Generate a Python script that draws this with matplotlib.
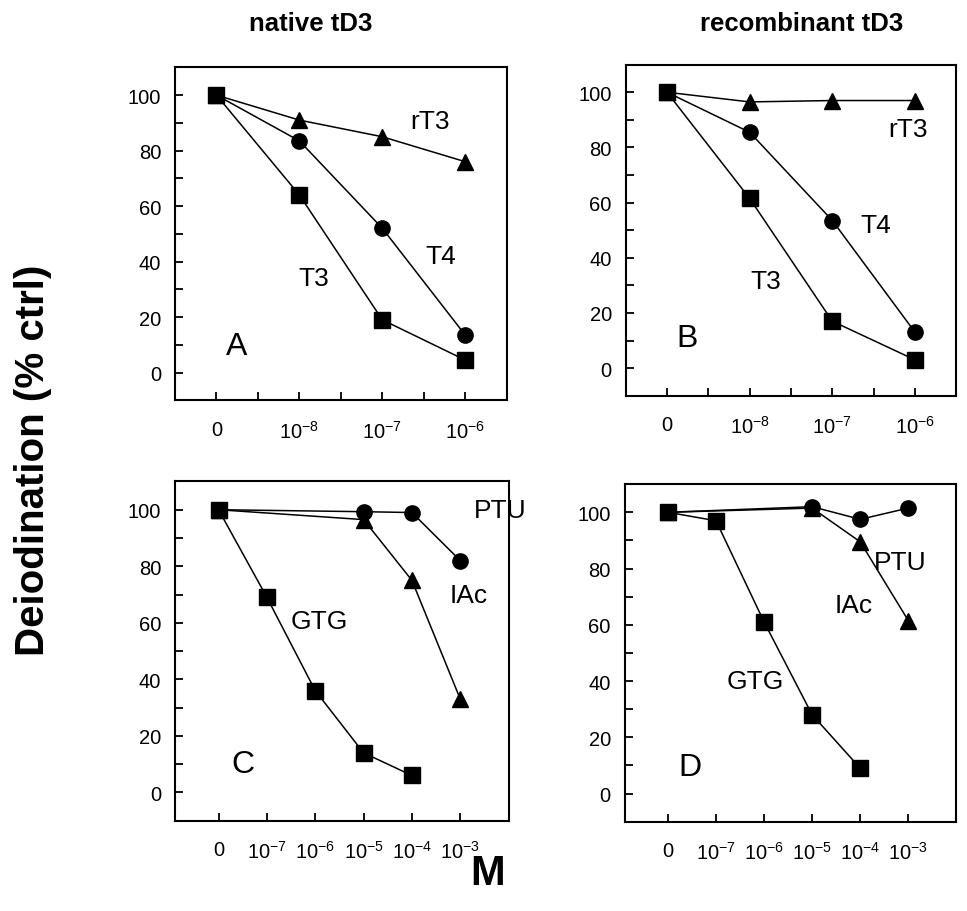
import matplotlib
matplotlib.use("Agg")
import matplotlib.pyplot as plt
from matplotlib.ticker import MultipleLocator

plt.rcParams['font.family'] = ['Liberation Sans', 'DejaVu Sans']
plt.rcParams['mathtext.default'] = 'regular'

# inhibitor doses, log-spaced positions
doses_ab = ['0', '10$^{-8}$', '10$^{-7}$', '10$^{-6}$']
doses_cd = ['0', '10$^{-7}$', '10$^{-6}$', '10$^{-5}$', '10$^{-4}$', '10$^{-3}$']

# panel A: native tD3
a_t3 = [100, 64, 19, 4.5]
a_t4 = [100, 83.5, 52, 13.5]
a_rt3 = [100, 91, 85, 76]

# panel B: recombinant tD3
b_t3 = [100, 61.5, 17, 3]
b_t4 = [100, 85.5, 53.5, 13]
b_rt3 = [100, 96.5, 97, 97]

# panel C: native tD3
c_gtg_x = [0, 1, 2, 3, 4]
c_gtg = [100, 69, 36, 14, 6]
c_iac_x = [0, 3, 4, 5]
c_iac = [100, 96.5, 75, 33]
c_ptu_x = [0, 3, 4, 5]
c_ptu = [100, 99.3, 99, 82]

# panel D: recombinant tD3
d_gtg_x = [0, 1, 2, 3, 4]
d_gtg = [100, 97, 61, 28, 9]
d_iac_x = [0, 3, 4, 5]
d_iac = [100, 101.5, 89.5, 61.5]
d_ptu_x = [0, 3, 4, 5]
d_ptu = [100, 102, 97.5, 101.5]

fig = plt.figure(figsize=(9.67, 9.12), dpi=100)

axA = fig.add_axes([0.181, 0.560, 0.343, 0.365])
axB = fig.add_axes([0.647, 0.565, 0.342, 0.363])
axC = fig.add_axes([0.181, 0.099, 0.345, 0.372])
axD = fig.add_axes([0.646, 0.098, 0.343, 0.370])

line_kw = dict(color='black', lw=1.1)
LBL = 19
PANEL = 23


def series(ax, x, y, marker, ms, z):
    ax.plot(x, y, marker=marker, ms=ms, mfc='black', mec='black', zorder=z, **line_kw)


def style(ax, labels, half_ticks):
    n = len(labels)
    ax.set_ylim(-10, 110)
    ax.set_xlim(-0.5 if half_ticks else -0.9, n - 0.5 if half_ticks else n)
    ax.set_xticks(range(n))
    ax.set_xticklabels(labels)
    if half_ticks:
        ax.xaxis.set_minor_locator(MultipleLocator(0.5))
    ax.set_yticks(range(0, 101, 20))
    ax.yaxis.set_minor_locator(MultipleLocator(10))
    ax.tick_params(which='both', direction='in', length=6, width=1.3,
                   top=False, right=False)
    ax.tick_params(axis='x', pad=14, labelsize=14.5)
    ax.tick_params(axis='y', pad=10, labelsize=14.5)
    for sp in ax.spines.values():
        sp.set_linewidth(1.5)


# A
xs = range(4)
series(axA, xs, a_rt3, '^', 12, 2)
series(axA, xs, a_t4, 'o', 11, 3)
series(axA, xs, a_t3, 's', 12, 4)
style(axA, doses_ab, True)
axA.text(2.57, 90.5, 'rT3', fontsize=LBL, ha='center', va='center')
axA.text(2.71, 42, 'T4', fontsize=LBL, ha='center', va='center')
axA.text(1.17, 34, 'T3', fontsize=LBL, ha='center', va='center')
axA.text(0.24, 9.5, 'A', fontsize=PANEL, ha='center', va='center')

# B
series(axB, xs, b_rt3, '^', 12, 2)
series(axB, xs, b_t4, 'o', 11, 3)
series(axB, xs, b_t3, 's', 12, 4)
style(axB, doses_ab, True)
axB.text(2.92, 86.5, 'rT3', fontsize=LBL, ha='center', va='center')
axB.text(2.53, 52, 'T4', fontsize=LBL, ha='center', va='center')
axB.text(1.2, 31.5, 'T3', fontsize=LBL, ha='center', va='center')
axB.text(0.24, 11, 'B', fontsize=PANEL, ha='center', va='center')

# C
series(axC, c_iac_x, c_iac, '^', 12, 2)
series(axC, c_ptu_x, c_ptu, 'o', 11, 3)
series(axC, c_gtg_x, c_gtg, 's', 12, 4)
style(axC, doses_cd, False)
axC.text(5.83, 100, 'PTU', fontsize=LBL, ha='center', va='center')
axC.text(5.17, 70, 'IAc', fontsize=LBL, ha='center', va='center')
axC.text(2.08, 60.5, 'GTG', fontsize=LBL, ha='center', va='center')
axC.text(0.5, 10, 'C', fontsize=PANEL, ha='center', va='center')

# D
series(axD, d_iac_x, d_iac, '^', 12, 2)
series(axD, d_ptu_x, d_ptu, 'o', 11, 3)
series(axD, d_gtg_x, d_gtg, 's', 12, 4)
style(axD, doses_cd, False)
axD.text(4.83, 82.5, 'PTU', fontsize=LBL, ha='center', va='center')
axD.text(3.87, 67, 'IAc', fontsize=LBL, ha='center', va='center')
axD.text(1.82, 40, 'GTG', fontsize=LBL, ha='center', va='center')
axD.text(0.46, 9.6, 'D', fontsize=PANEL, ha='center', va='center')

# column titles and shared labels
fig.text(311 / 967, 1 - 24 / 912, 'native tD3', fontsize=18.5, fontweight='bold',
         ha='center', va='center')
fig.text(802 / 967, 1 - 24 / 912, 'recombinant tD3', fontsize=18.5, fontweight='bold',
         ha='center', va='center')
fig.text(33 / 967, 1 - 460 / 912, 'Deiodination (% ctrl)', fontsize=29,
         fontweight='bold', rotation=90, ha='center', va='center')
fig.text(488 / 967, 1 - 874 / 912, 'M', fontsize=30, fontweight='bold',
         ha='center', va='center')

fig.savefig('out.png', dpi=100)
